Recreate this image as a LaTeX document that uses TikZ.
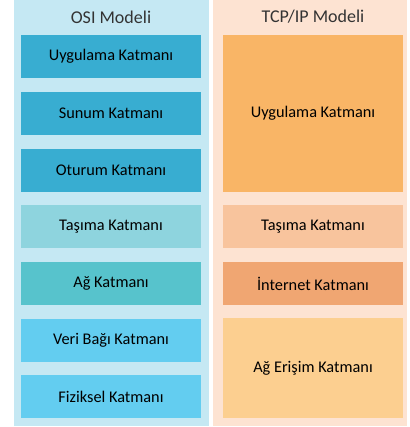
\documentclass[tikz,border=0pt]{standalone}
\usepackage{fontspec}
\setmainfont{Carlito}
\usepackage{tikz}

\definecolor{osibg}{HTML}{C5E8F3}
\definecolor{osidark}{HTML}{38ADD1}
\definecolor{osipale}{HTML}{8ED4DE}
\definecolor{ositeal}{HTML}{57C3CC}
\definecolor{osisky}{HTML}{63CDF0}
\definecolor{tcpbg}{HTML}{FDE3D2}
\definecolor{tcpapp}{HTML}{F9B566}
\definecolor{tcppale}{HTML}{F8C49D}
\definecolor{tcpmid}{HTML}{F0A672}
\definecolor{tcplight}{HTML}{FCCF90}

\begin{document}
\begin{tikzpicture}[
    x=1pt, y=-1pt,
    panel/.style={minimum width=195pt, minimum height=426pt, inner sep=0pt},
    title/.style={font=\fontsize{18}{20}\selectfont, text=black!80},
    layer/.style={minimum width=180pt, minimum height=43pt, inner sep=0pt, align=center,
                  font=\fontsize{16.3}{19}\selectfont, text=black}
]
    \useasboundingbox (0,0) rectangle (409,427);

    % Panels
    \node[panel, fill=osibg] (osi) at (111.5, 213) {};
    \node[panel, fill=tcpbg, minimum width=194pt] (tcp) at (310, 213) {};

    \node[title] (osititle) at (111, 17) {OSI Modeli};
    \node[title] (tcptitle) at (313, 17) {TCP/IP Modeli};

    % OSI model
    \node[layer, fill=osidark] (osiapp) at (111, 56.5) {Uygulama Katmanı};
    \node[layer, fill=osidark] (osipres) at (111, 113.5) {Sunum Katmanı};
    \node[layer, fill=osidark] (osisess) at (111, 170.5) {Oturum Katmanı};
    \node[layer, fill=osipale] (ositrans) at (111, 226.5) {Taşıma Katmanı};
    \node[layer, fill=ositeal] (osinet) at (111, 283.5) {Ağ Katmanı};
    \node[layer, fill=osisky] (osilink) at (111, 340) {Veri Bağı Katmanı};
    \node[layer, fill=osisky] (osiphys) at (111, 396.5) {Fiziksel Katmanı};

    % TCP/IP model
    \node[layer, fill=tcpapp, minimum height=157pt] (tcpapp) at (313, 113.5) {Uygulama Katmanı};
    \node[layer, fill=tcppale] (tcptrans) at (313, 226.5) {Taşıma Katmanı};
    \node[layer, fill=tcpmid] (tcpnet) at (313, 283.5) {İnternet Katmanı};
    \node[layer, fill=tcplight, minimum height=100pt] (tcpacc) at (313, 368) {Ağ Erişim Katmanı};
\end{tikzpicture}
\end{document}
